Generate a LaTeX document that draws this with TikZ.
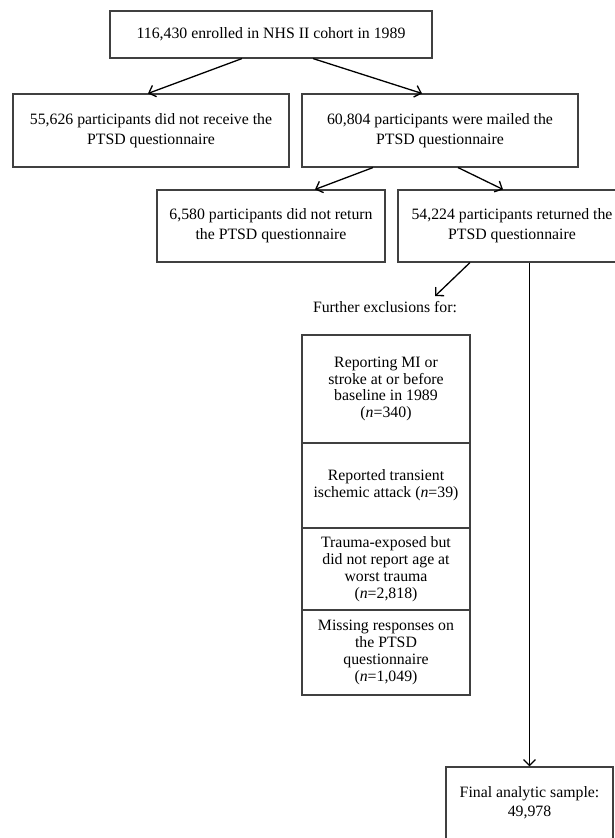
\documentclass[tikz,border=0pt]{standalone}
\usepackage{fontspec}
\setmainfont{Liberation Serif}
\usetikzlibrary{arrows.meta}
\begin{document}
\begin{tikzpicture}[x=1pt,y=-1pt,
  box/.style={draw=black!75,line width=1.1pt,rectangle,inner sep=0pt,align=center,
    font=\fontsize{15.8}{20}\selectfont},
  exbox/.style={box,minimum width=168pt,font=\fontsize{15.8}{16.8}\selectfont},
  arr/.style={line width=1.3pt,-{Straight Barb[length=6pt,width=12pt,line width=1.3pt]}}]
\useasboundingbox (0,0) rectangle (615,838);
\node[box,minimum width=322pt,minimum height=47pt] (b1) at (271,34.5) {116,430 enrolled in NHS II cohort in 1989};
\node[box,minimum width=276pt,minimum height=73pt] (b2) at (151,130.5) {55,626 participants did not receive the\\PTSD questionnaire};
\node[box,minimum width=276pt,minimum height=73pt] (b3) at (440,130.5) {60,804 participants were mailed the\\PTSD questionnaire};
\node[box,minimum width=228pt,minimum height=72pt] (b4) at (271,226) {6,580 participants did not return\\the PTSD questionnaire};
\node[box,minimum width=228pt,minimum height=72pt] (b5) at (512,226) {54,224 participants returned the\\PTSD questionnaire};
\node[inner sep=0pt,font=\fontsize{15.8}{20}\selectfont] (fe) at (385,307) {Further exclusions for:};
\node[exbox,minimum height=108pt] (e1) at (386,389) {Reporting MI or\\stroke at or before\\baseline in 1989\\(\textit{n}=340)};
\node[exbox,minimum height=85pt] (e2) at (386,485.5) {Reported transient\\ischemic attack (\textit{n}=39)};
\node[exbox,minimum height=82pt] (e3) at (386,569) {Trauma-exposed but\\did not report age at\\worst trauma\\(\textit{n}=2,818)};
\node[exbox,minimum height=85pt] (e4) at (386,652.5) {Missing responses on\\the PTSD\\questionnaire\\(\textit{n}=1,049)};
\node[box,minimum width=167pt,minimum height=72pt,font=\fontsize{15.8}{19}\selectfont] (fin) at (529.5,803) {Final analytic sample:\\49,978};
\draw[arr] ([xshift=-29pt]b1.south) -- ([xshift=-3pt]b2.north);
\draw[arr] ([xshift=42pt]b1.south) -- ([xshift=-18pt]b3.north);
\draw[arr] ([xshift=-67pt]b3.south) -- ([xshift=44pt]b4.north);
\draw[arr] ([xshift=18pt]b3.south) -- ([xshift=-9pt]b5.north);
\draw[arr] ([xshift=-42pt]b5.south) -- ([xshift=50pt,yshift=5pt]fe.north);
\draw[arr] (b5.south -| fin.north) -- (fin.north);
\end{tikzpicture}
\end{document}
